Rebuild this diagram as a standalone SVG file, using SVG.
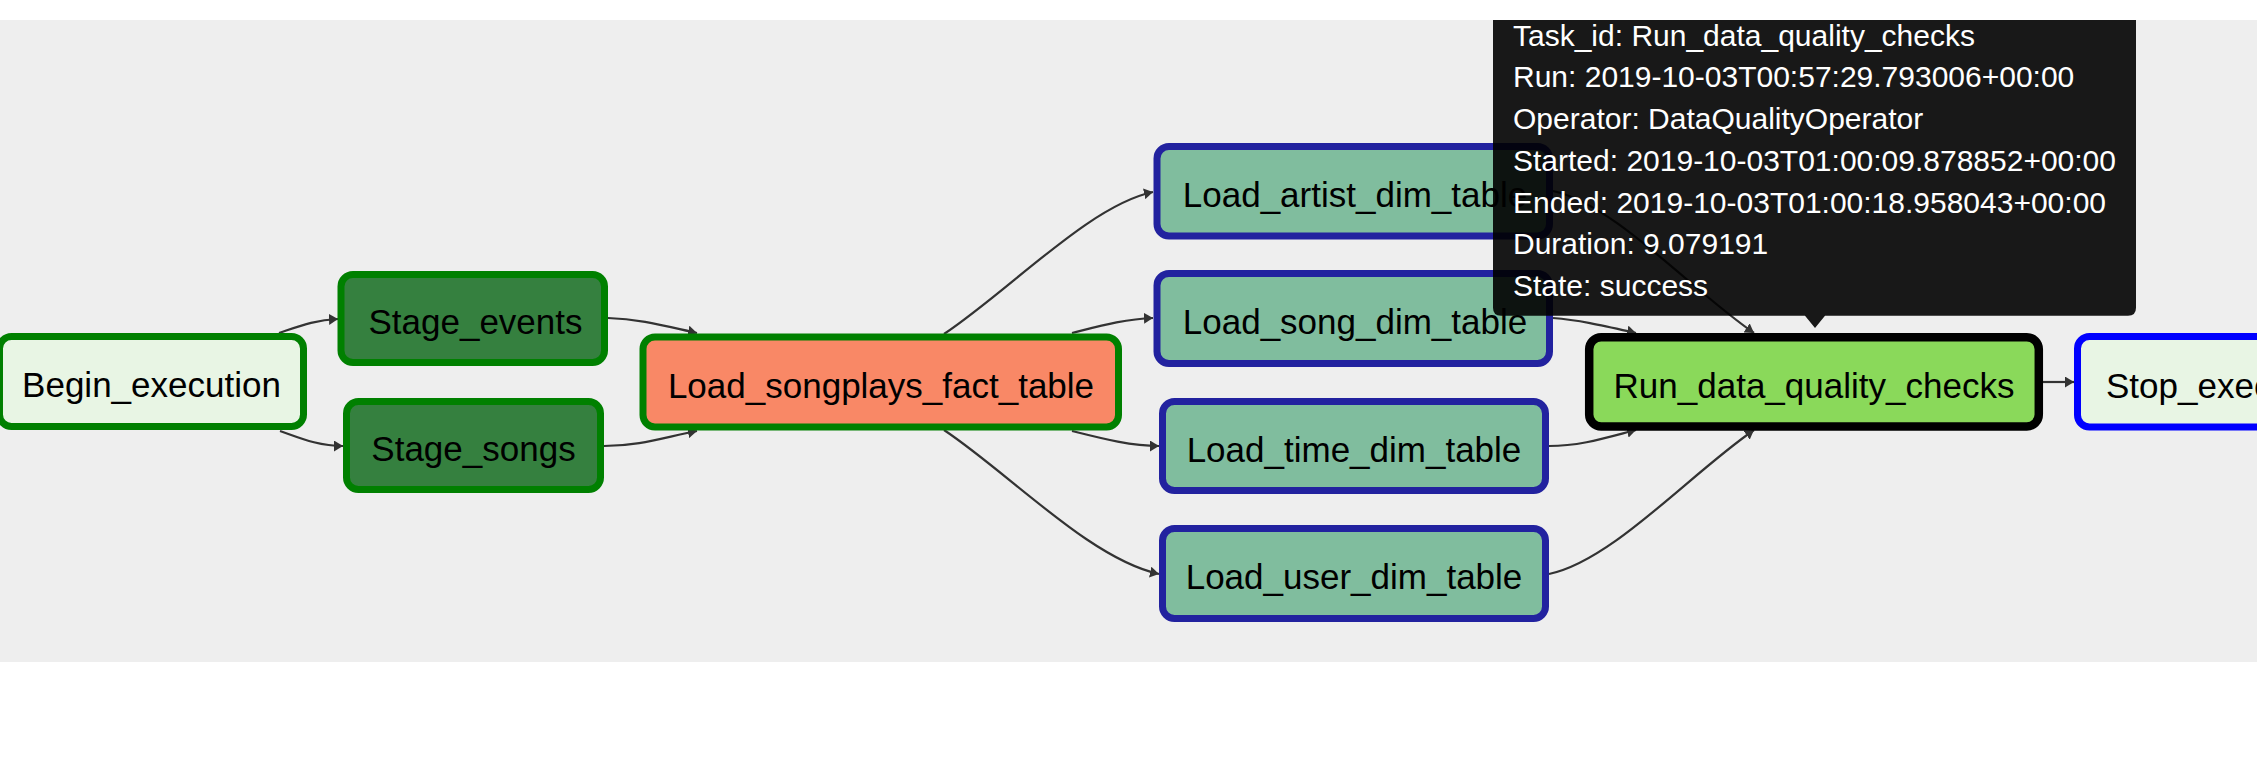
<svg xmlns="http://www.w3.org/2000/svg" width="2257" height="777" viewBox="0 0 2257 777">
<style>
.node rect{stroke-width:7}
.node text{font-family:"Liberation Sans",Arial,sans-serif;font-size:35px;fill:#000;text-anchor:middle}
.ok rect{stroke:#008000}
.dim rect{fill:#80bd9e;stroke:#22229f}
.edge path{fill:none;stroke:#333;stroke-width:2.2}
.tip text{font-family:"Liberation Sans",Arial,sans-serif;font-size:30px;fill:#fff}
</style>
<defs>
<marker id="arr" viewBox="0 0 10 10" refX="10" refY="5" markerUnits="userSpaceOnUse" markerWidth="9" markerHeight="11" orient="auto" preserveAspectRatio="none">
<path d="M0,0 L10,5 L0,10 z" fill="#333"/>
</marker>
</defs>
<rect x="0" y="0" width="2257" height="777" fill="#fff"/>
<rect x="0" y="20" width="2257" height="642" fill="#eeeeee"/>
<g id="connectors" class="edge">
<path d="M279,333 C300,326 315,320 338,319" marker-end="url(#arr)"/>
<path d="M280,431 C300,438 318,446 343,446" marker-end="url(#arr)"/>
<path d="M608,318 C640,319 665,326 697,333" marker-end="url(#arr)"/>
<path d="M604,446 C640,446 665,437 697,431" marker-end="url(#arr)"/>
<path d="M944,334 C1010,290 1090,205 1153,192" marker-end="url(#arr)"/>
<path d="M1072,333 C1100,326 1125,319 1153,318" marker-end="url(#arr)"/>
<path d="M1072,431 C1100,438 1130,446 1159,446" marker-end="url(#arr)"/>
<path d="M944,430 C1010,474 1090,559 1159,574" marker-end="url(#arr)"/>
<path d="M1553,191 C1614,204 1690,289 1754,333" marker-end="url(#arr)"/>
<path d="M1553,318 C1580,320 1605,326 1636,333" marker-end="url(#arr)"/>
<path d="M1549,446 C1580,446 1605,438 1636,430" marker-end="url(#arr)"/>
<path d="M1549,574 C1612,561 1690,474 1754,430" marker-end="url(#arr)"/>
<path d="M2043,382 L2074,382" marker-end="url(#arr)"/>
</g>
<g id="Begin_execution" class="node ok">
<rect x="-0.5" y="336.5" width="304" height="90" rx="12" fill="#e8f5e4"/>
<text x="151.5" y="397">Begin_execution</text>
</g>
<g id="Stage_events" class="node ok">
<rect x="341" y="274.5" width="263.5" height="88" rx="12" fill="#35803f"/>
<text x="475.5" y="334">Stage_events</text>
</g>
<g id="Stage_songs" class="node ok">
<rect x="346.5" y="401.5" width="254" height="88" rx="12" fill="#35803f"/>
<text x="473.5" y="461">Stage_songs</text>
</g>
<g id="Load_songplays_fact_table" class="node ok">
<rect x="643" y="337" width="475.5" height="90" rx="12" fill="#f98866"/>
<text x="881" y="397.5">Load_songplays_fact_table</text>
</g>
<g id="Load_artist_dim_table" class="node dim">
<rect x="1157" y="146.5" width="392.5" height="89.5" rx="12"/>
<text x="1355" y="206.5">Load_artist_dim_table</text>
</g>
<g id="Load_song_dim_table" class="node dim">
<rect x="1157" y="273.5" width="392.5" height="90" rx="12"/>
<text x="1355" y="334">Load_song_dim_table</text>
</g>
<g id="Load_time_dim_table" class="node dim">
<rect x="1162.5" y="401.5" width="383" height="89" rx="12"/>
<text x="1354" y="461.5">Load_time_dim_table</text>
</g>
<g id="Load_user_dim_table" class="node dim">
<rect x="1162.5" y="528.5" width="383" height="90" rx="12"/>
<text x="1354" y="589">Load_user_dim_table</text>
</g>
<g id="Run_data_quality_checks" class="node">
<rect x="1589.2" y="337.2" width="449.6" height="89.3" rx="12" fill="#8ad95a" stroke="#000" style="stroke-width:8.5"/>
<text x="1814" y="397.5">Run_data_quality_checks</text>
</g>
<g id="Stop_execution" class="node">
<rect x="2077.5" y="336.5" width="300" height="90.5" rx="12" fill="#e8f5e4" stroke="#0000ff"/>
<text x="2106" y="397.5" style="text-anchor:start">Stop_execution</text>
</g>
<g id="tooltip" class="tip">
<path d="M1493,20 L2136,20 L2136,307.7 Q2136,315.7 2128,315.7 L1825,315.7 L1815,328 L1805,315.7 L1501,315.7 Q1493,315.7 1493,307.7 Z" fill="#000" fill-opacity="0.9"/>
<text x="1513" y="45.5">Task_id: Run_data_quality_checks</text>
<text x="1513" y="87.3">Run: 2019-10-03T00:57:29.793006+00:00</text>
<text x="1513" y="129">Operator: DataQualityOperator</text>
<text x="1513" y="170.8">Started: 2019-10-03T01:00:09.878852+00:00</text>
<text x="1513" y="212.5">Ended: 2019-10-03T01:00:18.958043+00:00</text>
<text x="1513" y="254.3">Duration: 9.079191</text>
<text x="1513" y="296">State: success</text>
</g>
</svg>
